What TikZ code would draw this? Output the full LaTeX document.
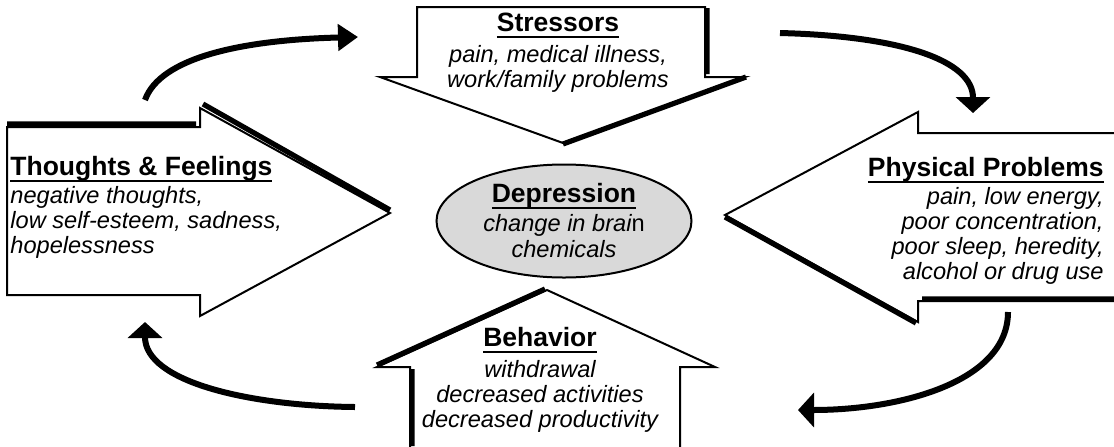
\documentclass[tikz,border=0pt]{standalone}
\usepackage{fontspec}
\setmainfont{Liberation Sans}
\usetikzlibrary{arrows.meta}
\usetikzlibrary{shapes.geometric}

\newsavebox{\headbox}
\newcommand{\heading}[1]{{\fontsize{13.25}{13}\selectfont\bfseries\upshape
	\sbox{\headbox}{#1}\rlap{\rule[-3pt]{\wd\headbox}{1pt}}\usebox{\headbox}}}
\newcommand{\tightlines}{\lineskiplimit=-20pt\relax}

\begin{document}
\begin{tikzpicture}[x = 0.5pt, y = -0.5pt]
	\tikzstyle{blockStyle} = [draw, line width = 1pt, fill = white, line join = miter]
	\tikzstyle{shadeStyle} = [line width = 2.6pt]
	\tikzstyle{loopStyle} = [line width = 3pt, -{Triangle[length = 8pt, width = 17pt]}]
	\tikzstyle{textStyle} = [inner sep = 0pt, font = \fontsize{11.8}{12.5}\selectfont\itshape\tightlines]
	\useasboundingbox (0,0) rectangle (1114,446);
	% block arrows
	\draw[blockStyle] (7,127) -- (200,127) -- (200,108) -- (390,213) -- (200,316) -- (200,295) -- (7,295) -- cycle;
	\draw[shadeStyle] (7,124) -- (196,124) (203,104) -- (390,210);
	\draw[blockStyle] (417,7) -- (705,7) -- (705,77) -- (745,77) -- (563,143) -- (380,77) -- (417,77) -- cycle;
	\draw[shadeStyle] (707,8) -- (707,74) (563,144) -- (746,77);
	\draw[blockStyle] (1116,133) -- (918,133) -- (918,112) -- (725,215) -- (918,322) -- (918,301) -- (1116,301);
	\draw[shadeStyle] (725,217) -- (916,323) (922,299) -- (1114,299);
	\draw[blockStyle] (410,448) -- (410,367) -- (377,367) -- (547,290) -- (715,367) -- (680,367) -- (680,448);
	\draw[shadeStyle] (377,365) -- (545,289) (412,369) -- (412,446);
	% center
	\node[ellipse, draw, line width = 1pt, fill = black!15, minimum width = 127.5pt, minimum height = 56.5pt,
		inner sep = 0pt, align = center, font = \fontsize{11.8}{13}\selectfont\itshape\tightlines] (depr) at (564,221)
		{\heading{Depression}\\[1.5pt] change in brai{\upshape n}\\ chemicals};
	% labels
	\node[textStyle, anchor = north west, align = left] (thought) at (10,156)
		{\heading{Thoughts \& Feelings}\\[1.5pt] negative thoughts,\\ low self-esteem, sadness,\\ hopelessness};
	\node[textStyle, anchor = north, align = center] (stress) at (558,13)
		{\heading{Stressors}\\[3pt] pain, medical illness,\\ work/family problems};
	\node[textStyle, anchor = north east, align = right] (phys) at (1104,157)
		{\heading{Physical Problems}\\[1.5pt] pain, low energy,\\ poor concentration,\\ poor sleep, heredity,\\ alcohol or drug use};
	\node[textStyle, anchor = north, align = center] (behav) at (540,327)
		{\heading{Behavior}\\[3pt] withdrawal\\ decreased activities\\ decreased productivity};
	% cycle
	\coordinate (a0) at (145,100);
	\coordinate (a1) at (358,37);
	\coordinate (b0) at (780,33);
	\coordinate (b1) at (973,113);
	\coordinate (c0) at (1008,312);
	\coordinate (c1) at (798,410);
	\coordinate (d0) at (355,407);
	\coordinate (d1) at (145,322);
	\draw[loopStyle, -{Triangle[length = 10pt, width = 13pt]}] (a0) .. controls (160,58) and (240,40) .. (a1);
	\draw[loopStyle] (b0) .. controls (900,36) and (973,60) .. (b1);
	\draw[loopStyle] (c0) .. controls (1008,382) and (900,410) .. (c1);
	\draw[loopStyle] (d0) .. controls (250,406) and (145,382) .. (d1);
\end{tikzpicture}
\end{document}
